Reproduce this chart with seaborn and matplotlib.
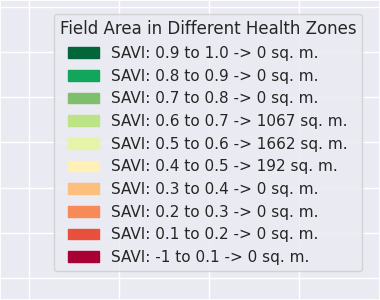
import matplotlib
matplotlib.use("Agg")
import matplotlib.pyplot as plt
import seaborn as sns
from matplotlib.patches import Patch
from matplotlib.ticker import MultipleLocator

sns.set_theme(style="darkgrid")

ranges = ["0.9 to 1.0", "0.8 to 0.9", "0.7 to 0.8", "0.6 to 0.7", "0.5 to 0.6",
          "0.4 to 0.5", "0.3 to 0.4", "0.2 to 0.3", "0.1 to 0.2", "-1 to 0.1"]
areas = [0, 0, 0, 1067, 1662, 192, 0, 0, 0, 0]
colors = ["#03663a", "#12a65c", "#7fbf6c", "#bce486", "#e5f4a8",
          "#fff0b8", "#fdbf7e", "#f88a5a", "#e8503c", "#a80034"]
title = "Field Area in Different Health Zones"

fig = plt.figure(figsize=(3.8, 3.0), dpi=100)
ax = fig.add_axes([0, 0, 1, 1])
ax.set_xlim(-29 / 90, (380 - 29) / 90)
ax.set_ylim(-22 / 45.2, (300 - 22) / 45.2)
ax.xaxis.set_major_locator(MultipleLocator(1))
ax.yaxis.set_major_locator(MultipleLocator(1))
ax.tick_params(labelbottom=False, labelleft=False, length=0)

handles = [Patch(facecolor=c, edgecolor=c, label=f"SAVI: {r} -> {a} sq. m.")
           for r, a, c in zip(ranges, areas, colors)]
leg = ax.legend(handles=handles, title=title, loc="upper right",
                bbox_to_anchor=(1 - 10 / 380, 1 - 6.7 / 300), bbox_transform=fig.transFigure,
                fontsize=11, title_fontsize=12, frameon=True)
fig.savefig("out.png", dpi=100)
